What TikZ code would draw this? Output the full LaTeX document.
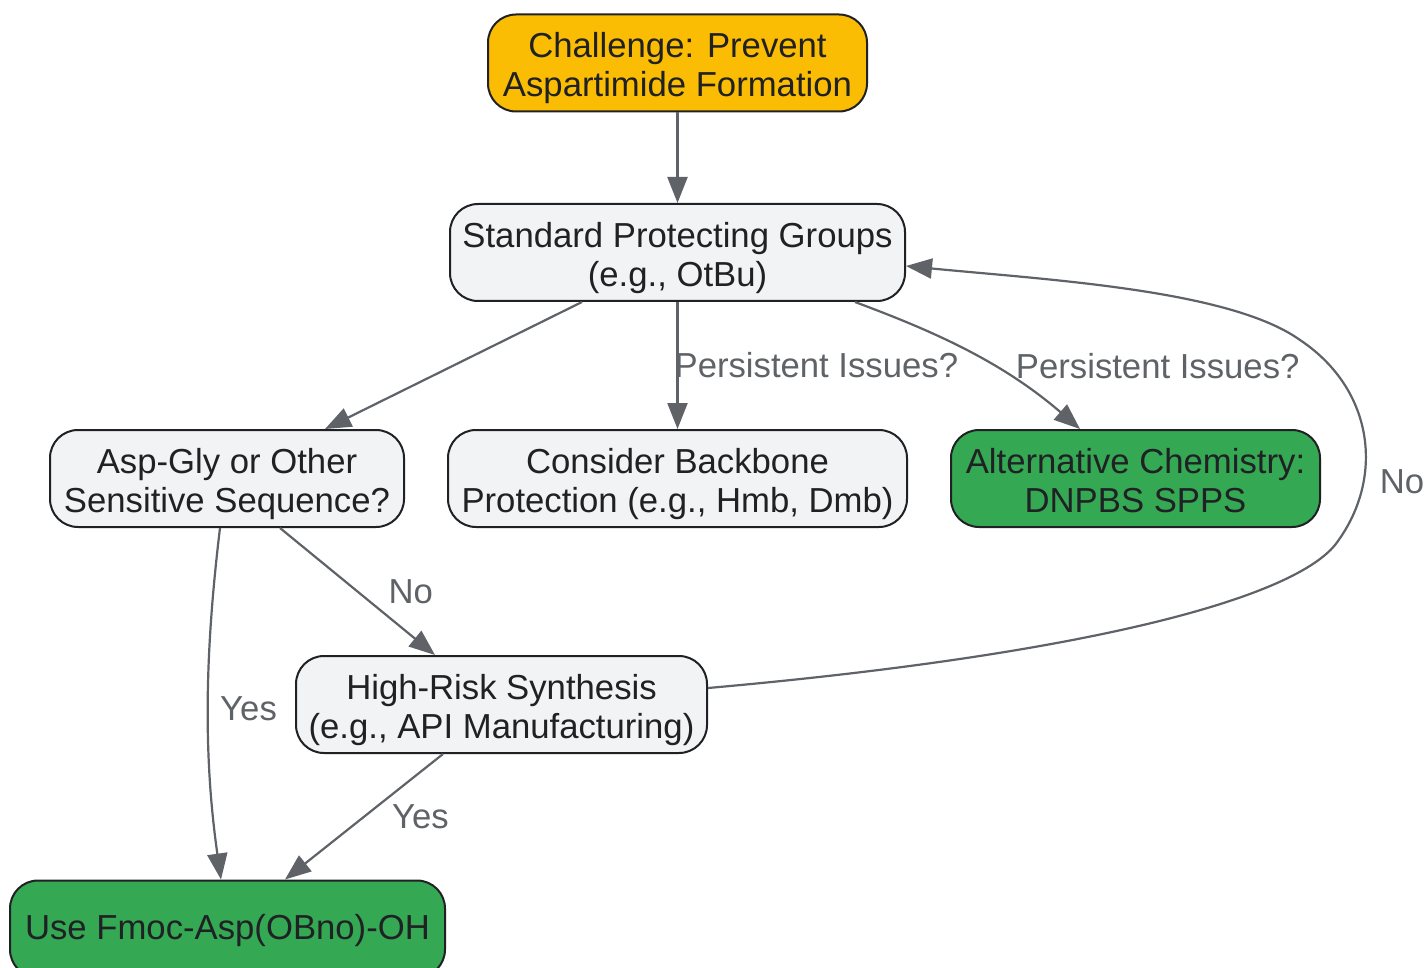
\documentclass[tikz,border=0pt]{standalone}
\usepackage{fontspec}
\setmainfont{Liberation Sans}
\usetikzlibrary{calc,shapes,arrows.meta}

\definecolor{chalfill}{HTML}{FBBC04}
\definecolor{boxfill}{HTML}{F1F3F4}
\definecolor{altfill}{HTML}{34A853}
\definecolor{inkdark}{HTML}{202124}
\definecolor{edgegrey}{HTML}{5F6368}

% struts that keep the text lines where they should sit
\newcommand{\boxstrut}[1][36pt]{\rule{0pt}{#1}}
\newcommand{\taildepth}{\rule[-7.5pt]{0pt}{7.5pt}}

\tikzset{
  box/.style={draw=inkdark, line width=2pt, rounded corners=28pt, fill=boxfill,
    text=inkdark, align=center, minimum height=97pt, inner sep=0pt,
    font=\fontsize{34.7}{39}\selectfont},
  chal/.style={box, fill=chalfill},
  good/.style={box, fill=altfill},
  flow/.style={draw=edgegrey, line width=2.2pt, -{Triangle[length=26pt,width=20pt]}},
  lbl/.style={text=edgegrey, inner sep=0pt, font=\fontsize{34.7}{39}\selectfont}
}

\begin{document}
\begin{tikzpicture}[x=1pt,y=-1pt]
    \fill[white] (0,0) rectangle (1424,968);
    \useasboundingbox (0,0) rectangle (1424,968);

    % boxes
    \node[chal, minimum width=379pt] (chal) at (677.5,63) {\boxstrut Challenge: Prevent\\Aspartimide Formation};
    \node[box, minimum width=455pt] (std) at (677.5,252.5) {\boxstrut Standard Protecting Groups\\(e.g., OtBu)};
    \node[box, minimum width=354pt] (asp) at (227,478.5) {\boxstrut Asp-Gly or Other\\Sensitive Sequence?};
    \node[box, minimum width=459pt] (cons) at (677.5,478.5) {\boxstrut Consider Backbone\\Protection (e.g., Hmb, Dmb)};
    \node[good, minimum width=369pt] (alt) at (1135.5,478.5) {\boxstrut Alternative Chemistry:\\DNPBS SPPS\taildepth};
    \node[box, minimum width=411pt] (high) at (501.5,704.5) {\boxstrut High-Risk Synthesis\\(e.g., API Manufacturing)};
    \node[good, minimum width=435pt] (fmoc) at (227.5,929) {\boxstrut[28pt]Use Fmoc-Asp(OBno)-OH};

    % arrows
    \draw[flow] (chal) -- (std);
    \draw[flow] ([xshift=-95.5pt]std.south) -- ([xshift=98pt]asp.north);
    \draw[flow] (std) -- node[lbl, pos=.5, anchor=west, xshift=-4pt] {Persistent Issues?} (cons);
    \draw[flow] ([xshift=177.5pt]std.south) .. controls (930,330) and (1000,360) ..
        node[lbl, pos=.6, anchor=west, xshift=27pt, yshift=-4pt] {Persistent Issues?} ([xshift=-55.5pt]alt.north);
    \draw[flow] ([xshift=-7pt]asp.south) .. controls (204,660) and (204,760) ..
        node[lbl, pos=.5, anchor=west, xshift=11pt] {Yes} ([xshift=-6.5pt]fmoc.north);
    \draw[flow] ([xshift=53pt]asp.south) -- node[lbl, pos=.5, anchor=west, xshift=30pt] {No} ([xshift=-66.5pt]high.north);
    \draw[flow] ([xshift=-58.5pt]high.south) -- node[lbl, pos=.5, anchor=west, xshift=27pt] {Yes} ([xshift=57.5pt]fmoc.north);
    \draw[flow] ([yshift=16.5pt]high.east) .. controls (1080,655) and (1290,600) .. (1335,545)
        .. controls (1385,480) and (1375,390) .. node[lbl, pos=.3, anchor=west, xshift=15pt] {No} (1300,340)
        .. controls (1230,290) and (1050,280) .. ([yshift=-13.5pt]std.east);
\end{tikzpicture}
\end{document}
